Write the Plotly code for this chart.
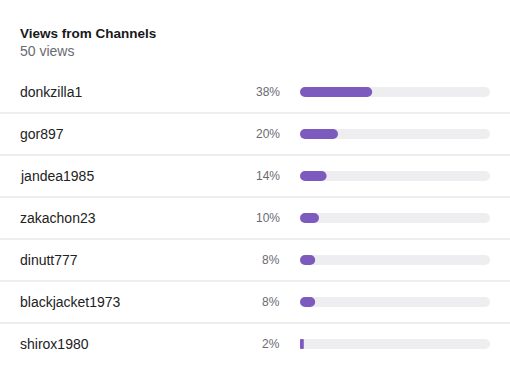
import plotly.graph_objects as go

channels = ["donkzilla1", "gor897", "jandea1985", "zakachon23", "dinutt777", "blackjacket1973", "shirox1980"]
percents = [38, 20, 14, 10, 8, 8, 2]
track = [100] * len(channels)
title = "Views from Channels"
subtitle = "50 views"

W, H = 510, 385
FONT = "Liberation Sans, Arial, sans-serif"
PURPLE = "#7d5bbe"
TRACK = "#eeeef1"
TOP, BOTTOM = 71, 365  # plot area in pixels

fig = go.Figure()
# floating bars (explicit base) get all four corners rounded
fig.add_trace(go.Bar(y=channels, x=track, base=[0] * len(channels), orientation="h",
                     marker=dict(color=TRACK, line=dict(width=0)), width=0.24,
                     hoverinfo="skip", showlegend=False))
fig.add_trace(go.Bar(y=channels, x=percents, base=[0] * len(channels), orientation="h",
                     marker=dict(color=PURPLE, line=dict(width=0)), width=0.24, showlegend=False,
                     hovertemplate="%{y}: %{x}%<extra></extra>"))


def py(pix):
    return (BOTTOM - pix) / (BOTTOM - TOP)


annotations = []
for name, p in zip(channels, percents):
    annotations.append(dict(x=18 / W, xref="paper", y=name, yref="y", text=name, showarrow=False,
                            xanchor="left", yanchor="middle",
                            font=dict(family=FONT, size=14, color="#222222")))
    annotations.append(dict(x=282 / W, xref="paper", y=name, yref="y", text=f"{p}%", showarrow=False,
                            xanchor="right", yanchor="middle",
                            font=dict(family=FONT, size=12, color="#6a6a72")))
annotations.append(dict(x=18 / W, xref="paper", y=py(33), yref="paper", yanchor="middle", xanchor="left",
                        text=f"<b>{title}</b>", showarrow=False,
                        font=dict(family=FONT, size=13.5, color="#18181b")))
annotations.append(dict(x=18 / W, xref="paper", y=py(51), yref="paper", yanchor="middle", xanchor="left",
                        text=subtitle, showarrow=False,
                        font=dict(family=FONT, size=14, color="#6a6a72")))

shapes = []
for i in range(len(channels) - 1):
    shapes.append(dict(type="line", xref="paper", x0=0, x1=1, yref="y", y0=i + 0.5, y1=i + 0.5,
                       line=dict(color="#dcdce0", width=1), layer="below"))

fig.update_layout(
    width=W, height=H,
    margin=dict(l=0, r=0, t=TOP, b=H - BOTTOM, pad=0),
    paper_bgcolor="white", plot_bgcolor="white",
    barmode="overlay", barcornerradius=5,
    xaxis=dict(domain=[300 / W, 490 / W], range=[0, 100], visible=False, fixedrange=True),
    yaxis=dict(type="category", categoryorder="array", categoryarray=channels,
               range=[len(channels) - 0.5, -0.5], visible=False, fixedrange=True),
    annotations=annotations, shapes=shapes,
)

fig.write_html("out.html", config={"displayModeBar": False},
               post_script="document.body.style.margin='0px';")
